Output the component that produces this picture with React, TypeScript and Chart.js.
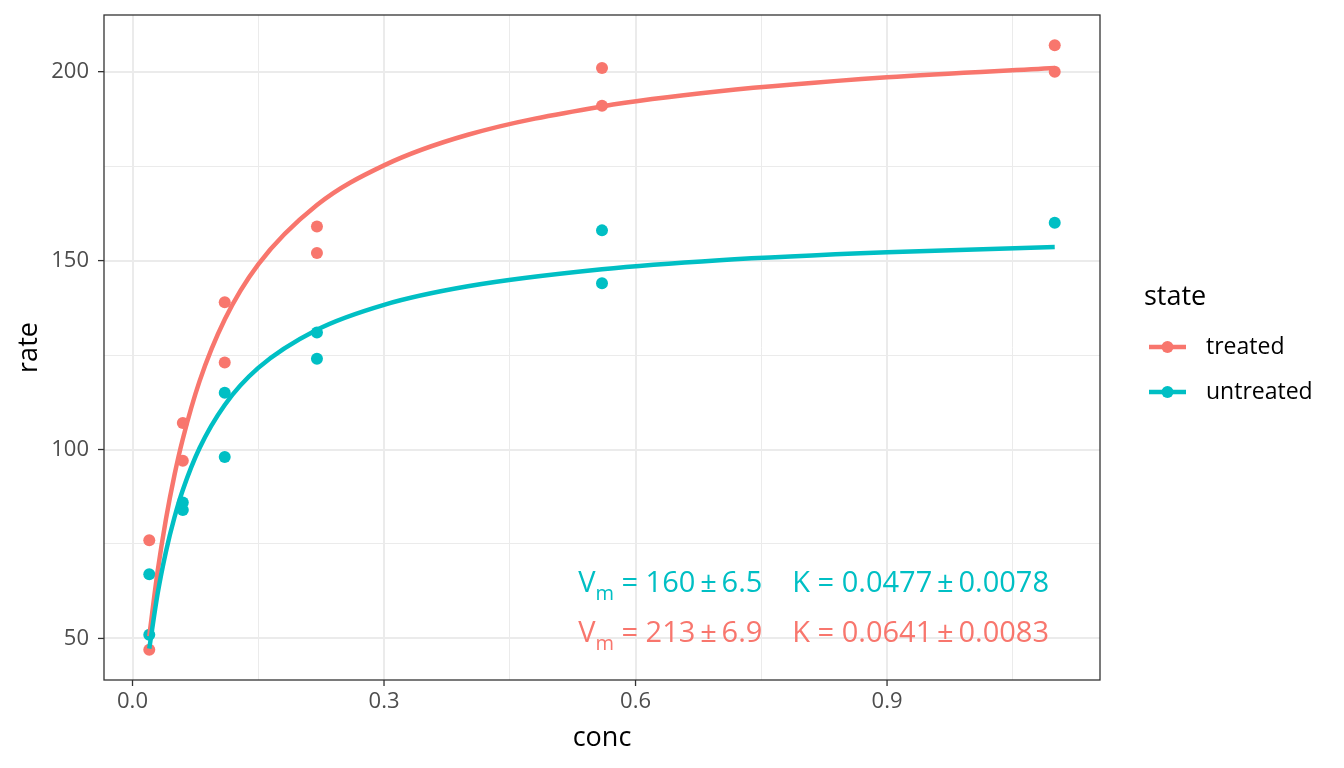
import React, { useEffect, useRef } from "react";
import { Chart, registerables } from "chart.js";

Chart.register(...registerables);

// Observed data (Puromycin)
const treatedConc = [0.02, 0.02, 0.06, 0.06, 0.11, 0.11, 0.22, 0.22, 0.56, 0.56, 1.1, 1.1];
const treatedRate = [76, 47, 97, 107, 123, 139, 159, 152, 191, 201, 207, 200];
const untreatedConc = [0.02, 0.02, 0.06, 0.06, 0.11, 0.11, 0.22, 0.22, 0.56, 0.56, 1.1];
const untreatedRate = [67, 51, 84, 86, 98, 115, 131, 124, 144, 158, 160];

// Fitted curves
const fitConc = [0.02, 0.03, 0.04, 0.05, 0.06, 0.08, 0.11, 0.15, 0.22, 0.3, 0.4, 0.56, 0.7, 0.9, 1.1];
const treatedFit = [50.6, 67.8, 81.7, 93.2, 102.8, 118.1, 134.4, 149.0, 164.7, 175.2, 183.3, 190.8, 194.8, 198.5, 201.0];
const untreatedFit = [47.3, 61.9, 73.1, 82.0, 89.3, 100.4, 111.8, 121.6, 131.7, 138.3, 143.2, 147.7, 150.1, 152.2, 153.6];

// Axis ticks
const xTicks = [0, 0.15, 0.3, 0.45, 0.6, 0.75, 0.9, 1.05];
const xMajor = [0, 0.3, 0.6, 0.9];
const yTicks = [50, 75, 100, 125, 150, 175, 200];
const yMajor = [50, 100, 150, 200];

// Legend & annotations
const seriesNames = ["treated", "untreated"];
const legendTitle = "state";
const annotations = [
  { vm: "160", vmSe: "6.5", k: "0.0477", kSe: "0.0078", series: 1 },
  { vm: "213", vmSe: "6.9", k: "0.0641", kSe: "0.0083", series: 0 },
];

const COLORS = ["#F8766D", "#00BFC4"];
const FONT = "'Open Sans', 'Noto Sans', sans-serif";

const isMajor = (v: number, majors: number[]) => majors.some((m) => Math.abs(m - v) < 1e-9);

const decorPlugin = {
  id: "decor",
  afterDatasetsDraw(chart: any) {
    const { ctx, chartArea: a, scales } = chart;
    const xs = scales.x;
    const ys = scales.y;
    ctx.save();
    // panel border
    ctx.strokeStyle = "#333333";
    ctx.lineWidth = 1.3;
    ctx.strokeRect(a.left, a.top, a.right - a.left, a.bottom - a.top);
    // tick marks
    ctx.lineWidth = 1.3;
    xMajor.forEach((v) => {
      const px = xs.getPixelForValue(v);
      ctx.beginPath();
      ctx.moveTo(px, a.bottom);
      ctx.lineTo(px, a.bottom + 6);
      ctx.stroke();
    });
    yMajor.forEach((v) => {
      const py = ys.getPixelForValue(v);
      ctx.beginPath();
      ctx.moveTo(a.left, py);
      ctx.lineTo(a.left - 6, py);
      ctx.stroke();
    });

    // annotations
    const right = 1049;
    annotations.forEach((an, i) => {
      const baseY = 592 + i * 50;
      const big = `29px ${FONT}`;
      const small = `20px ${FONT}`;
      const parts: { t: string; f: string; dy: number }[] = [
        { t: "V", f: big, dy: 0 },
        { t: "m", f: small, dy: 8 },
        { t: ` = ${an.vm}\u2009\u00B1\u2009${an.vmSe}`, f: big, dy: 0 },
        { t: "GAP", f: big, dy: 0 },
        { t: `K = ${an.k}\u2009\u00B1\u2009${an.kSe}`, f: big, dy: 0 },
      ];
      const gap = 30;
      let total = 0;
      parts.forEach((p) => {
        if (p.t === "GAP") { total += gap; return; }
        ctx.font = p.f;
        total += ctx.measureText(p.t).width;
      });
      let x = right - total;
      ctx.fillStyle = COLORS[an.series];
      ctx.textBaseline = "alphabetic";
      ctx.textAlign = "left";
      parts.forEach((p) => {
        if (p.t === "GAP") { x += gap; return; }
        ctx.font = p.f;
        ctx.fillText(p.t, x, baseY + p.dy);
        x += ctx.measureText(p.t).width;
      });
    });

    // axis titles
    ctx.fillStyle = "#000000";
    ctx.font = `27px ${FONT}`;
    ctx.textAlign = "center";
    ctx.textBaseline = "alphabetic";
    ctx.fillText("conc", (a.left + a.right) / 2, 746);
    ctx.save();
    ctx.translate(37, (a.top + a.bottom) / 2);
    ctx.rotate(-Math.PI / 2);
    ctx.fillText("rate", 0, 0);
    ctx.restore();

    // legend
    ctx.textAlign = "left";
    ctx.textBaseline = "alphabetic";
    ctx.font = `27px ${FONT}`;
    ctx.fillText(legendTitle, 1144, 305);
    ctx.font = `23px ${FONT}`;
    ctx.textBaseline = "middle";
    seriesNames.forEach((name, i) => {
      const cy = 347 + i * 45;
      ctx.strokeStyle = COLORS[i];
      ctx.lineWidth = 4.5;
      ctx.beginPath();
      ctx.moveTo(1149, cy);
      ctx.lineTo(1186, cy);
      ctx.stroke();
      ctx.fillStyle = COLORS[i];
      ctx.beginPath();
      ctx.arc(1167.5, cy, 6, 0, Math.PI * 2);
      ctx.fill();
      ctx.fillStyle = "#000000";
      ctx.fillText(name, 1206, cy);
    });
    ctx.restore();
  },
};

const zeroPad = (s: any) => {
  s.paddingTop = 0;
  s.paddingBottom = 0;
  s.paddingLeft = 0;
  s.paddingRight = 0;
};

export default function App() {
  const ref = useRef<HTMLCanvasElement | null>(null);
  useEffect(() => {
    if (!ref.current) return;
    const chart = new Chart(ref.current, {
      type: "scatter",
      data: {
        datasets: [
          {
            label: "untreated fit",
            data: fitConc.map((x, i) => ({ x, y: untreatedFit[i] })),
            showLine: true,
            borderColor: COLORS[1],
            borderWidth: 4.5,
            pointRadius: 0,
            cubicInterpolationMode: "monotone",
            order: 0,
          } as any,
          {
            label: "treated fit",
            data: fitConc.map((x, i) => ({ x, y: treatedFit[i] })),
            showLine: true,
            borderColor: COLORS[0],
            borderWidth: 4.5,
            pointRadius: 0,
            cubicInterpolationMode: "monotone",
            order: 1,
          } as any,
          {
            label: "untreated",
            data: untreatedConc.map((x, i) => ({ x, y: untreatedRate[i] })),
            backgroundColor: COLORS[1],
            borderWidth: 0,
            pointRadius: 6,
            order: 2,
          },
          {
            label: "treated",
            data: treatedConc.map((x, i) => ({ x, y: treatedRate[i] })),
            backgroundColor: COLORS[0],
            borderWidth: 0,
            pointRadius: 6,
            order: 3,
          },
        ],
      },
      options: {
        animation: false,
        responsive: false,
        maintainAspectRatio: false,
        layout: { padding: { left: 0, right: 244, top: 15, bottom: 0 } },
        plugins: { legend: { display: false }, tooltip: { enabled: false } },
        scales: {
          x: {
            type: "linear",
            min: -0.034,
            max: 1.154,
            afterBuildTicks: (s: any) => {
              s.ticks = xTicks.map((v) => ({ value: v }));
            },
            afterFit: (s: any) => {
              s.height = 88;
              zeroPad(s);
            },
            ticks: {
              autoSkip: false,
              maxRotation: 0,
              padding: 9,
              color: "#4D4D4D",
              font: { family: FONT, size: 22 },
              callback: (v: any) => (isMajor(Number(v), xMajor) ? Number(v).toFixed(1) : ""),
            },
            grid: {
              drawTicks: false,
              color: "#EBEBEB",
              lineWidth: (c: any) => (isMajor(c.tick?.value, xMajor) ? 2 : 1),
            },
            border: { display: false },
          },
          y: {
            type: "linear",
            min: 39,
            max: 215,
            afterBuildTicks: (s: any) => {
              s.ticks = yTicks.map((v) => ({ value: v }));
            },
            afterFit: (s: any) => {
              s.width = 104;
              zeroPad(s);
            },
            ticks: {
              autoSkip: false,
              padding: 15,
              color: "#4D4D4D",
              font: { family: FONT, size: 22 },
              callback: (v: any) => (isMajor(Number(v), yMajor) ? String(v) : ""),
            },
            grid: {
              drawTicks: false,
              color: "#EBEBEB",
              lineWidth: (c: any) => (isMajor(c.tick?.value, yMajor) ? 2 : 1),
            },
            border: { display: false },
          },
        },
      },
      plugins: [decorPlugin],
    });
    return () => chart.destroy();
  }, []);
  return (
    <div style={{ position: "absolute", left: 0, top: 0, width: 1344, height: 768, background: "#fff" }}>
      <canvas ref={ref} width={1344} height={768} style={{ width: 1344, height: 768, display: "block" }} />
    </div>
  );
}
